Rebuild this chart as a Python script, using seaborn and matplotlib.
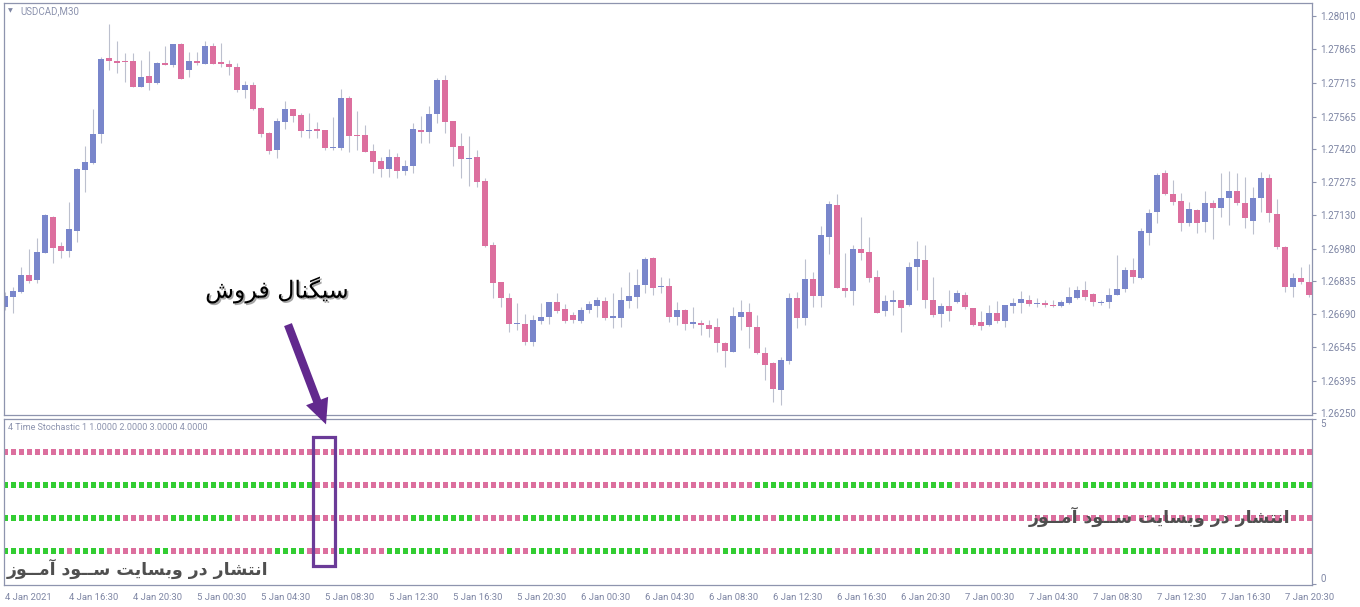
import numpy as np
import pandas as pd
import matplotlib
matplotlib.use('Agg')
import matplotlib.pyplot as plt
import matplotlib.patches as mpatches
import matplotlib.patheffects as pe
import seaborn as sns

# USDCAD M30 candles, 4 Jan 2021 12:30 .. 7 Jan 2021 22:00
opens = [1.26722, 1.26767, 1.26789, 1.26863, 1.26841, 1.26962, 1.27120, 1.26991, 1.26970, 1.27059,
         1.27328, 1.27360, 1.27487, 1.27823, 1.27811, 1.27811, 1.27811, 1.27697, 1.27744, 1.27715,
         1.27802, 1.27794, 1.27886, 1.27772, 1.27811, 1.27799, 1.27877, 1.27806, 1.27797, 1.27786,
         1.27682, 1.27704, 1.27604, 1.27493, 1.27417, 1.27542, 1.27598, 1.27572, 1.27501, 1.27510,
         1.27505, 1.27425, 1.27427, 1.27648, 1.27483, 1.27483, 1.27413, 1.27368, 1.27332, 1.27384,
         1.27325, 1.27347, 1.27505, 1.27497, 1.27576, 1.27727, 1.27545, 1.27434, 1.27377, 1.27386,
         1.27279, 1.26996, 1.26832, 1.26761, 1.26646, 1.26646, 1.26567, 1.26660, 1.26678, 1.26743,
         1.26712, 1.26684, 1.26660, 1.26708, 1.26727, 1.26749, 1.26674, 1.26674, 1.26749, 1.26767,
         1.26818, 1.26937, 1.26808, 1.26814, 1.26678, 1.26708, 1.26644, 1.26649, 1.26641, 1.26634,
         1.26563, 1.26523, 1.26678, 1.26699, 1.26634, 1.26519, 1.26474, 1.26353, 1.26483, 1.26762,
         1.26674, 1.26845, 1.26770, 1.27032, 1.27173, 1.26806, 1.26793, 1.26978, 1.26966, 1.26853,
         1.26705, 1.26745, 1.26752, 1.26730, 1.26900, 1.26929, 1.26752, 1.26690, 1.26725, 1.26745,
         1.26774, 1.26715, 1.26655, 1.26641, 1.26693, 1.26660, 1.26727, 1.26740, 1.26752, 1.26734,
         1.26739, 1.26731, 1.26725, 1.26740, 1.26762, 1.26796, 1.26779, 1.26740, 1.26742, 1.26774,
         1.26801, 1.26885, 1.26851, 1.27050, 1.27141, 1.27316, 1.27222, 1.27191, 1.27092, 1.27151,
         1.27099, 1.27183, 1.27158, 1.27205, 1.27236, 1.27183, 1.27103, 1.27203, 1.27291, 1.27133,
         1.26988, 1.26808, 1.26848, 1.26833]
highs = [1.26789, 1.26811, 1.26900, 1.26979, 1.27025, 1.27133, 1.27124, 1.27010, 1.27188, 1.27337,
         1.27434, 1.27597, 1.27830, 1.27975, 1.27901, 1.27845, 1.27845, 1.27815, 1.27856, 1.27808,
         1.27877, 1.27888, 1.27890, 1.27852, 1.27852, 1.27901, 1.27890, 1.27892, 1.27815, 1.27803,
         1.27724, 1.27719, 1.27606, 1.27497, 1.27560, 1.27634, 1.27600, 1.27579, 1.27579, 1.27542,
         1.27507, 1.27564, 1.27687, 1.27656, 1.27591, 1.27527, 1.27442, 1.27387, 1.27420, 1.27402,
         1.27372, 1.27535, 1.27568, 1.27613, 1.27734, 1.27749, 1.27547, 1.27491, 1.27479, 1.27417,
         1.27291, 1.27010, 1.26834, 1.26782, 1.26740, 1.26690, 1.26686, 1.26740, 1.26745, 1.26782,
         1.26733, 1.26700, 1.26722, 1.26749, 1.26767, 1.26767, 1.26782, 1.26811, 1.26875, 1.26888,
         1.26944, 1.26944, 1.26855, 1.26848, 1.26745, 1.26710, 1.26722, 1.26663, 1.26663, 1.26671,
         1.26565, 1.26720, 1.26752, 1.26737, 1.26686, 1.26545, 1.26476, 1.26501, 1.26782, 1.26789,
         1.26932, 1.26877, 1.27080, 1.27192, 1.27222, 1.26959, 1.26996, 1.27121, 1.27030, 1.26885,
         1.26774, 1.26796, 1.26754, 1.26922, 1.27015, 1.26996, 1.26855, 1.26737, 1.26796, 1.26796,
         1.26789, 1.26718, 1.26705, 1.26730, 1.26749, 1.26732, 1.26760, 1.26792, 1.26774, 1.26760,
         1.26752, 1.26752, 1.26752, 1.26808, 1.26814, 1.26838, 1.26781, 1.26752, 1.26804, 1.26951,
         1.26897, 1.26937, 1.27070, 1.27154, 1.27313, 1.27328, 1.27284, 1.27225, 1.27185, 1.27154,
         1.27235, 1.27195, 1.27313, 1.27325, 1.27313, 1.27298, 1.27254, 1.27320, 1.27310, 1.27199,
         1.26990, 1.26870, 1.26897, 1.26912]
lows = [1.26708, 1.26696, 1.26785, 1.26826, 1.26826, 1.26959, 1.26915, 1.26937, 1.26944, 1.27010,
        1.27232, 1.27355, 1.27446, 1.27771, 1.27756, 1.27719, 1.27695, 1.27694, 1.27682, 1.27709,
        1.27792, 1.27786, 1.27730, 1.27741, 1.27793, 1.27797, 1.27797, 1.27786, 1.27749, 1.27675,
        1.27646, 1.27594, 1.27473, 1.27399, 1.27380, 1.27508, 1.27542, 1.27473, 1.27468, 1.27468,
        1.27417, 1.27417, 1.27417, 1.27409, 1.27417, 1.27407, 1.27313, 1.27298, 1.27298, 1.27291,
        1.27306, 1.27313, 1.27446, 1.27446, 1.27535, 1.27491, 1.27346, 1.27291, 1.27257, 1.27254,
        1.26988, 1.26760, 1.26722, 1.26612, 1.26619, 1.26553, 1.26548, 1.26646, 1.26646, 1.26693,
        1.26649, 1.26649, 1.26649, 1.26693, 1.26678, 1.26663, 1.26627, 1.26634, 1.26715, 1.26715,
        1.26782, 1.26774, 1.26782, 1.26656, 1.26641, 1.26619, 1.26627, 1.26597, 1.26589, 1.26523,
        1.26454, 1.26520, 1.26619, 1.26538, 1.26514, 1.26398, 1.26302, 1.26287, 1.26469, 1.26627,
        1.26641, 1.26722, 1.26722, 1.26956, 1.26804, 1.26767, 1.26730, 1.26929, 1.26833, 1.26694,
        1.26681, 1.26686, 1.26612, 1.26725, 1.26796, 1.26715, 1.26678, 1.26631, 1.26660, 1.26740,
        1.26711, 1.26639, 1.26619, 1.26639, 1.26651, 1.26634, 1.26693, 1.26696, 1.26725, 1.26720,
        1.26720, 1.26720, 1.26720, 1.26734, 1.26755, 1.26752, 1.26725, 1.26730, 1.26715, 1.26772,
        1.26789, 1.26829, 1.26844, 1.26996, 1.27092, 1.27218, 1.27173, 1.27059, 1.27081, 1.27050,
        1.27055, 1.27021, 1.27118, 1.27084, 1.27173, 1.27070, 1.27044, 1.27143, 1.27099, 1.26977,
        1.26789, 1.26767, 1.26823, 1.26767]
closes = [1.26770, 1.26793, 1.26863, 1.26838, 1.26963, 1.27129, 1.26982, 1.26970, 1.27067, 1.27332,
          1.27362, 1.27487, 1.27820, 1.27812, 1.27803, 1.27808, 1.27697, 1.27740, 1.27715, 1.27802,
          1.27794, 1.27886, 1.27732, 1.27811, 1.27803, 1.27877, 1.27799, 1.27796, 1.27786, 1.27682,
          1.27704, 1.27598, 1.27487, 1.27413, 1.27545, 1.27598, 1.27567, 1.27502, 1.27505, 1.27501,
          1.27427, 1.27431, 1.27648, 1.27480, 1.27479, 1.27409, 1.27365, 1.27332, 1.27384, 1.27325,
          1.27346, 1.27510, 1.27496, 1.27576, 1.27727, 1.27542, 1.27431, 1.27378, 1.27381, 1.27275,
          1.26993, 1.26829, 1.26762, 1.26646, 1.26650, 1.26567, 1.26663, 1.26678, 1.26743, 1.26705,
          1.26660, 1.26663, 1.26708, 1.26734, 1.26752, 1.26674, 1.26681, 1.26752, 1.26770, 1.26818,
          1.26932, 1.26805, 1.26814, 1.26678, 1.26708, 1.26644, 1.26655, 1.26641, 1.26624, 1.26563,
          1.26527, 1.26681, 1.26699, 1.26634, 1.26516, 1.26464, 1.26358, 1.26486, 1.26762, 1.26674,
          1.26845, 1.26770, 1.27040, 1.27177, 1.26806, 1.26793, 1.26978, 1.26962, 1.26851, 1.26696,
          1.26748, 1.26753, 1.26718, 1.26900, 1.26932, 1.26752, 1.26686, 1.26725, 1.26705, 1.26784,
          1.26722, 1.26641, 1.26637, 1.26693, 1.26660, 1.26730, 1.26739, 1.26755, 1.26734, 1.26739,
          1.26730, 1.26727, 1.26743, 1.26767, 1.26796, 1.26767, 1.26745, 1.26745, 1.26774, 1.26801,
          1.26885, 1.26853, 1.27058, 1.27136, 1.27306, 1.27220, 1.27188, 1.27092, 1.27154, 1.27094,
          1.27183, 1.27161, 1.27205, 1.27236, 1.27183, 1.27114, 1.27205, 1.27291, 1.27136, 1.26988,
          1.26808, 1.26848, 1.26833, 1.26774]

price_ticks = [1.28010, 1.27865, 1.27715, 1.27565, 1.27420, 1.27275, 1.27130,
               1.26980, 1.26835, 1.26690, 1.26545, 1.26395, 1.26250]
time_labels = ['4 Jan 2021', '4 Jan 16:30', '4 Jan 20:30', '5 Jan 00:30', '5 Jan 04:30',
               '5 Jan 08:30', '5 Jan 12:30', '5 Jan 16:30', '5 Jan 20:30', '6 Jan 00:30',
               '6 Jan 04:30', '6 Jan 08:30', '6 Jan 12:30', '6 Jan 16:30', '6 Jan 20:30',
               '7 Jan 00:30', '7 Jan 04:30', '7 Jan 08:30', '7 Jan 12:30', '7 Jan 16:30',
               '7 Jan 20:30']

# 4 Time Stochastic: state runs per line, g = up (green), p = down (pink)
line4 = [('p', 164)]
line3 = [('g', 39), ('p', 55), ('g', 25), ('p', 16), ('g', 29)]
line2 = [('g', 15), ('p', 6), ('g', 8), ('p', 22), ('g', 8), ('p', 6), ('g', 20),
         ('p', 6), ('g', 4), ('p', 2), ('g', 8), ('p', 59)]
line1 = [('g', 8), ('p', 1), ('g', 4), ('p', 6), ('g', 2), ('p', 13), ('g', 4), ('p', 4),
         ('g', 3), ('p', 3), ('g', 8), ('p', 7), ('g', 1), ('p', 2), ('g', 5), ('p', 1),
         ('g', 9), ('p', 9), ('g', 5), ('p', 2), ('g', 7), ('p', 3), ('g', 2), ('p', 5),
         ('g', 2), ('p', 3), ('g', 17), ('p', 4), ('g', 5), ('p', 5), ('g', 5), ('p', 9)]
signal_bar = 39

BLUE = '#7986CB'
PINK = '#DC6F9E'
GREEN = '#32CD32'
WICK = '#BCC0CE'
AXC = '#8E94AE'
TXT = '#7E86A4'
PURPLE = '#62298E'

sns.set_style('white')
plt.rcParams['font.family'] = ['Roboto', 'DejaVu Sans']

W, H = 1360, 607
fig = plt.figure(figsize=(W / 100, H / 100), dpi=100)
ax = fig.add_axes([4 / W, 1 - 415 / H, 1308 / W, 412 / H])
ax_ind = fig.add_axes([4 / W, 1 - 585 / H, 1308 / W, 166 / H])

# candles
o = np.array(opens)
hi = np.array(highs)
lo = np.array(lows)
c = np.array(closes)
x = np.arange(len(c))
up = c >= o
ax.vlines(x, lo, hi, color=WICK, lw=0.8, zorder=1)
ax.bar(x, np.maximum(np.abs(c - o), 0.00004), bottom=np.minimum(o, c), width=0.8,
       color=np.where(up, BLUE, PINK), lw=0, zorder=2)

ax.set_xlim(-0.16, 163.34)
ax.set_ylim(1.262425, 1.28068)
ax.yaxis.tick_right()
ax.set_yticks(price_ticks, [f'{p:.5f}' for p in price_ticks])
ax.set_xticks([])
ax.tick_params(axis='y', colors=AXC, labelcolor=TXT, labelsize=7, length=3, width=0.8, pad=3)

# indicator squares
rows = []
for val, runs in [(4, line4), (3, line3), (2, line2), (1, line1)]:
    states = [s for s, n in runs for _ in range(n)]
    for i, s in enumerate(states):
        rows.append({'bar': i, 'line': val, 'state': s})
df = pd.DataFrame(rows)
sns.scatterplot(data=df, x='bar', y='line', hue='state', palette={'g': GREEN, 'p': PINK},
                marker='s', s=16, linewidth=0, legend=False, ax=ax_ind)

ax_ind.set_xlim(-0.16, 163.34)
ax_ind.set_ylim(-0.03, 5.0)
ax_ind.set_xlabel('')
ax_ind.set_ylabel('')
ax_ind.yaxis.tick_right()
ax_ind.set_yticks([0, 5], ['0', '5'])
ylbl = ax_ind.get_yticklabels()
ylbl[0].set_va('bottom')
ylbl[1].set_va('top')
ax_ind.set_xticks(np.arange(0, 161, 8), time_labels)
for t in ax_ind.get_xticklabels():
    t.set_ha('left')
ax_ind.tick_params(axis='x', colors=AXC, labelcolor=TXT, labelsize=6.8, length=4, width=0.8, pad=1.5)
ax_ind.tick_params(axis='y', colors=AXC, labelcolor=TXT, labelsize=7, length=3, width=0.8, pad=3)

for a in (ax, ax_ind):
    for sp in a.spines.values():
        sp.set_color(AXC)
        sp.set_linewidth(0.9)

# signal box
ax_ind.add_patch(mpatches.Rectangle((signal_bar - 0.55, 0.545), 2.75, 3.9, fill=False,
                                    ec='#6B3B98', lw=2.3, zorder=5, clip_on=False))

# labels
fig.text(8 / W, 1 - 11 / H, '\u25BC', fontsize=4.5, color=TXT, va='center', family='DejaVu Sans')
fig.text(20 / W, 1 - 11 / H, 'USDCAD,M30', fontsize=7, color='#8C93AE', va='center')
fig.text(8 / W, 1 - 427 / H, '4 Time Stochastic 1 1.0000 2.0000 3.0000 4.0000',
         fontsize=6.5, color='#8C93AE', va='center')

# Persian annotations (presentation forms, visual order)
sell_text = '\uFEB5\uFEED\uFEAE\uFED3 \uFEDD\uFE8E\uFEE8\uFB95\uFEF4\uFEB3'
mark_text = ('\uFEAF\uFEEE\u0640\u0640\uFEE3\uFE81 \uFEA9\uFEEE\u0640\u0640\uFEB3 '
             '\uFE96\uFEF3\uFE8E\uFEB4\uFE91\uFEED \uFEAD\uFEA9 \uFEAD\uFE8E\uFEB8\uFE98\uFEE7\uFE8D')
fig.text(277 / W, 1 - 290 / H, sell_text, fontsize=17, color='black', ha='center', va='center',
         family='DejaVu Sans',
         path_effects=[pe.withSimplePatchShadow(offset=(1.2, -1.2), alpha=0.35)])
fig.text(138 / W, 1 - 569 / H, mark_text, fontsize=12.5, color='#4F4F4F', ha='center', va='center',
         family='DejaVu Sans', weight='bold')
fig.text(1160 / W, 1 - 517 / H, mark_text, fontsize=12.5, color='#4F4F4F', ha='center', va='center',
         family='DejaVu Sans', weight='bold', zorder=10)

arrow = mpatches.FancyArrowPatch((287 / W, 1 - 322 / H), (327 / W, 1 - 427 / H),
                                 transform=fig.transFigure,
                                 arrowstyle='simple,head_length=0.9,head_width=0.85,tail_width=0.3',
                                 mutation_scale=20, lw=0, color=PURPLE)
fig.add_artist(arrow)

fig.savefig('out.png', dpi=100, facecolor='white')
